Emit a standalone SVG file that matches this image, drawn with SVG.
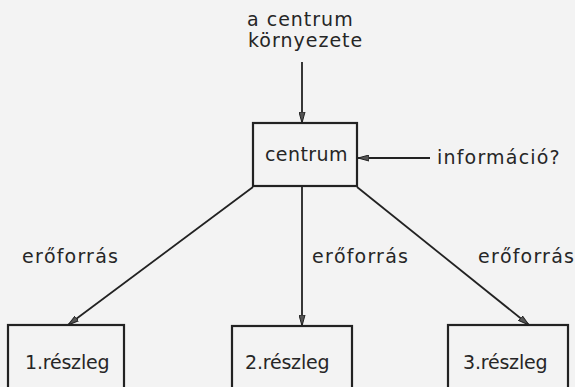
<svg xmlns="http://www.w3.org/2000/svg" width="575" height="387" viewBox="0 0 575 387">
  <style>
    .box { fill: none; stroke: #222; stroke-width: 2.2; }
    .edge { fill: none; stroke: #222; stroke-width: 1.8; marker-end: url(#arrow); }
    .lbl { font-family: "DejaVu Sans", "Noto Sans", sans-serif; font-size: 19px; fill: #262626; letter-spacing: 1px; }
    .unit { letter-spacing: -0.2px; }
  </style>
  <defs>
    <marker id="arrow" viewBox="0 0 11 7" refX="11" refY="3.5" markerWidth="11" markerHeight="7" markerUnits="userSpaceOnUse" orient="auto">
      <path d="M0,0.5 L11,3.5 L0,6.5 Z" fill="#555" stroke="#222" stroke-width="1"/>
    </marker>
  </defs>

  <rect width="575" height="387" fill="#f3f3f3"/>

  <!-- environment label above the centre -->
  <g id="environment">
    <text class="lbl" x="247" y="26">a centrum</text>
    <text class="lbl" x="248" y="47">környezete</text>
  </g>

  <g id="info-label">
    <text class="lbl" x="437" y="164" style="letter-spacing:1.2px">információ?</text>
  </g>

  <g id="centrum">
    <rect class="box" x="253" y="123" width="104" height="63"/>
    <text class="lbl" x="265" y="161" style="letter-spacing:0.4px">centrum</text>
  </g>

  <g id="reszleg1">
    <rect class="box" x="8" y="325" width="116" height="80"/>
    <text class="lbl unit" x="25" y="369">1.részleg</text>
  </g>

  <g id="reszleg2">
    <rect class="box" x="232" y="326" width="120" height="80"/>
    <text class="lbl unit" x="245" y="369">2.részleg</text>
  </g>

  <g id="reszleg3">
    <rect class="box" x="448" y="325" width="120" height="80"/>
    <text class="lbl unit" x="463" y="369">3.részleg</text>
  </g>

  <g id="connectors">
    <line class="edge" x1="302" y1="62" x2="302" y2="123"/>
    <line class="edge" x1="430" y1="158" x2="358" y2="158"/>
    <line class="edge" x1="253" y1="187" x2="68" y2="325"/>
    <line class="edge" x1="302" y1="187" x2="302" y2="326"/>
    <line class="edge" x1="357" y1="187" x2="529" y2="325"/>
    <text class="lbl" x="22" y="263" style="letter-spacing:1.2px">erőforrás</text>
    <text class="lbl" x="312" y="263" style="letter-spacing:1.2px">erőforrás</text>
    <text class="lbl" x="478" y="263" style="letter-spacing:1.2px">erőforrás</text>
  </g>
</svg>
